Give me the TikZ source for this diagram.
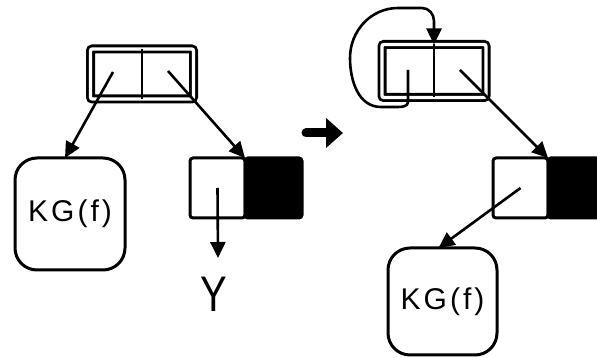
\documentclass[tikz,border=0pt]{standalone}
\usepackage{fontspec}
\setmainfont{Liberation Sans}
\newfontfamily\plotfont[LetterSpace=10]{Liberation Sans}
\usepackage{tikz}
\usetikzlibrary{arrows.meta,calc}

\begin{document}
\begin{tikzpicture}[x=1pt,y=1pt,
  pairbox/.style={draw,line width=2.8pt,double,double distance=3.4pt,rounded corners=2pt,outer sep=0pt,inner sep=0pt},
  cellbox/.style={draw,line width=3pt,rounded corners=3pt,outer sep=0pt,inner sep=0pt,minimum height=60pt},
  kgbox/.style={draw,line width=3pt,rounded corners=22pt,outer sep=0pt,font=\plotfont\fontsize{30}{32}\selectfont},
  ptr/.style={line width=2.6pt,-{Triangle[length=16pt,width=15pt]}}]
\useasboundingbox (0,0) rectangle (597,358);

% before: cons cell pointing at KG(f) and at a cell whose tail is Y
\node[pairbox,minimum width=103pt,minimum height=50pt] (lpair) at (142,284) {};
\draw[line width=2.6pt] (lpair.north)--(lpair.south);
\coordinate (lcar) at (113,286);
\coordinate (lcdr) at (168,287);
\node[kgbox,minimum width=110pt,minimum height=112pt] (lkg) at (70,144) {KG(f)};
\node[cellbox,minimum width=55pt] (lwhite) at (217.5,170) {};
\node[cellbox,fill=black,minimum width=57pt] (lblack) at (273.5,170) {};
\node[font=\fontsize{50}{52}\selectfont,inner sep=0pt,xscale=.8] (ly) at (214,64) {Y};
\draw[ptr] (lcar)--([xshift=-5pt]lkg.north);
\draw[ptr] (lcdr)--(lwhite.north east);
\draw[ptr] (lwhite.center)--(218,100);

% the big arrow
\coordinate (gofrom) at (306,225);
\coordinate (goto) at (343,225);
\draw[line width=9pt,line cap=round,-{Triangle[length=17pt,width=29pt]}] (gofrom)--(goto);

% after: car loops back onto the cell itself
\node[pairbox,minimum width=104pt,minimum height=53pt] (rpair) at (434,287) {};
\draw[line width=2.6pt] (rpair.north)--(rpair.south);
\coordinate (rcar) at (408,288);
\coordinate (rcdr) at (460,288);
\draw[ptr] (rcar)--(408,256) to[out=-90,in=0] (398,251)--(381,251)
  to[out=180,in=-90] (350,300) to[out=90,in=180] (398,350)--(422,350)
  to[out=0,in=90] (434,337)--(rpair.north);
\node[cellbox,minimum width=55pt] (rwhite) at (520.5,170) {};
\node[cellbox,fill=black,minimum width=51pt] (rblack) at (573.5,170) {};
\node[kgbox,minimum width=109pt,minimum height=107pt] (rkg) at (442.5,56.5) {KG(f)};
\draw[ptr] (rcdr)--(rwhite.north east);
\draw[ptr] (rwhite.center)--([xshift=-4pt]rkg.north);
\end{tikzpicture}
\end{document}
